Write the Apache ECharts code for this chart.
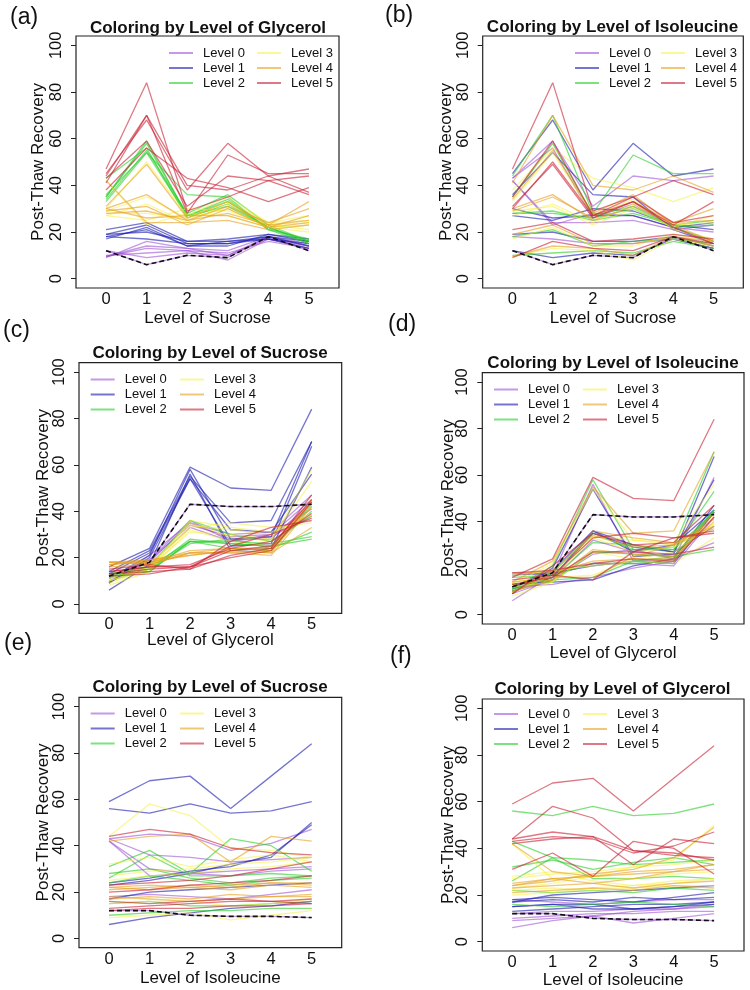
<!DOCTYPE html>
<html>
<head>
<meta charset="utf-8">
<script src="https://cdn.jsdelivr.net/npm/echarts@6/dist/echarts.min.js"></script>
<style>
html,body{margin:0;padding:0;background:#fff;}
#chart{width:750px;height:990px;}
</style>
</head>
<body>
<div id="chart"></div>
<script>
// factor levels (x-axis categories) and y tick labels
const levels = [0, 1, 2, 3, 4, 5];
const yTicks = [0, 20, 40, 60, 80, 100];
const legendNames = ['Level 0', 'Level 1', 'Level 2', 'Level 3', 'Level 4', 'Level 5'];

// Post-thaw recovery: for each sucrose level, rows = glycerol level 0..5, columns = isoleucine level 0..5
const sucrose0 = [
  [12, 12, 10, 9.5, 9.5, 9],
  [18, 19, 18, 17, 19, 21],
  [43, 36, 35, 33, 34, 35],
  [42, 27, 28, 27, 29, 30],
  [42, 30, 28, 29, 30, 31],
  [43, 45, 44, 38, 41, 47]
];
const sucrose1 = [
  [6, 9, 11, 13, 14, 16],
  [17, 20, 21, 22, 23, 24],
  [56, 54, 58, 54, 55, 59],
  [23, 25, 28, 32, 35, 50],
  [24, 26, 29, 31, 36, 49],
  [59, 68, 70, 56, 70, 84]
];
const sucrose2 = [
  [10, 11, 12, 12, 13, 13],
  [15, 16, 14, 14, 15, 16],
  [26, 36, 27, 27, 28, 27],
  [28, 30, 26, 24, 26, 27],
  [24, 27, 25, 23, 25, 26],
  [31, 38, 28, 43, 40, 29]
];
const sucrose3 = [
  [9, 10, 11, 8, 10, 12],
  [15, 16, 16, 14, 15, 17],
  [32, 35, 31, 34, 36, 33],
  [27, 29, 30, 32, 33, 35],
  [25, 27, 28, 30, 31, 33],
  [44, 58, 53, 39, 38, 35]
];
const sucrose4 = [
  [18, 17, 16, 17, 18, 18],
  [17, 18, 17, 19, 18, 19],
  [22, 21, 22, 21, 23, 22],
  [22, 23, 22, 23, 24, 24],
  [21, 22, 23, 22, 24, 23],
  [42, 44, 45, 33, 44, 42]
];
const sucrose5 = [
  [12, 13, 13, 14, 14, 15],
  [13, 14, 15, 16, 16, 17],
  [16, 15, 16, 17, 16, 15],
  [20, 21, 23, 24, 25, 27],
  [23, 24, 25, 27, 30, 33],
  [44, 47, 45, 39, 37, 36]
];
const cube = [sucrose0, sucrose1, sucrose2, sucrose3, sucrose4, sucrose5];

const FONT = '"Liberation Sans", Arial, sans-serif';
const palette = [
  'rgba(150,70,210,0.55)',
  'rgba(25,25,175,0.6)',
  'rgba(40,205,40,0.6)',
  'rgba(245,240,50,0.5)',
  'rgba(230,160,30,0.6)',
  'rgba(200,30,50,0.6)'
];

const factorName = { s: 'Sucrose', g: 'Glycerol', i: 'Isoleucine' };
const panels = [
  { tag: '(a)', x: 's', c: 'g', o: 'i', grid: { left: 76, top: 36, width: 263, height: 252 }, title: [208, 28], tagPos: [10, 5], legend: [169, 257, 45.5], xGap: 21.5, yGap: 29 },
  { tag: '(b)', x: 's', c: 'i', o: 'g', grid: { left: 482.7, top: 36, width: 260.6, height: 252 }, title: [612.5, 27], tagPos: [385, 3], legend: [575, 661, 45.5], xGap: 21.5, yGap: 27.5 },
  { tag: '(c)', x: 'g', c: 's', o: 'i', grid: { left: 79, top: 362.7, width: 262.7, height: 250.6 }, title: [210, 353], tagPos: [3, 318], legend: [90.7, 180, 372], xGap: 19, yGap: 27 },
  { tag: '(d)', x: 'g', c: 'i', o: 's', grid: { left: 482.3, top: 372.7, width: 261.7, height: 251.3 }, title: [613, 363.3], tagPos: [388, 312], legend: [494, 583, 382], xGap: 20.5, yGap: 25.5 },
  { tag: '(e)', x: 'i', c: 's', o: 'g', grid: { left: 79, top: 697.3, width: 262.7, height: 250.4 }, title: [210, 687.7], tagPos: [4, 631], legend: [90.7, 180, 706], xGap: 22, yGap: 27 },
  { tag: '(f)', x: 'i', c: 'g', o: 's', grid: { left: 482.3, top: 699, width: 261.7, height: 252 }, title: [612.5, 689.3], tagPos: [390, 644], legend: [494, 583, 706.5], xGap: 20.5, yGap: 25 }
];

function value(idx) { return cube[idx.s][idx.g][idx.i]; }

const grids = [], xAxes = [], yAxes = [], series = [], titles = [], legends = [];
panels.forEach((p, k) => {
  grids.push(Object.assign({ show: true, borderColor: '#222', borderWidth: 1.2, backgroundColor: 'transparent', containLabel: false }, p.grid));
  xAxes.push({
    type: 'value', gridIndex: k, min: -0.74, max: 5.74,
    axisLine: { show: false, onZero: false }, axisTick: { show: false }, splitLine: { show: false },
    axisLabel: { customValues: levels, fontSize: 16.5, margin: 3, color: '#111', fontFamily: FONT },
    name: 'Level of ' + factorName[p.x], nameLocation: 'middle', nameGap: p.xGap, nameMoveOverlap: false,
    nameTextStyle: { fontSize: 17, color: '#111', fontFamily: FONT }
  });
  yAxes.push({
    type: 'value', gridIndex: k, min: -4, max: 104,
    axisLine: { show: false, onZero: false }, splitLine: { show: false },
    axisTick: { show: true, customValues: yTicks, length: 5, lineStyle: { color: '#222', width: 1 } },
    axisLabel: { customValues: yTicks, rotate: 90, fontSize: 16.5, margin: 11, color: '#111', fontFamily: FONT },
    name: 'Post-Thaw Recovery', nameLocation: 'middle', nameGap: p.yGap, nameMoveOverlap: false,
    nameTextStyle: { fontSize: 17, color: '#111', fontFamily: FONT }
  });
  titles.push({
    text: 'Coloring by Level of ' + factorName[p.c], left: p.title[0], top: p.title[1] - 10, textAlign: 'center', padding: 0,
    textStyle: { fontSize: 17, fontWeight: 'bold', color: '#111', fontFamily: FONT, lineHeight: 20 }
  });
  titles.push({
    text: p.tag, left: p.tagPos[0], top: p.tagPos[1], padding: 0,
    textStyle: { fontSize: 23, fontWeight: 'normal', color: '#111', fontFamily: FONT, lineHeight: 26 }
  });
  [[0, 1, 2], [3, 4, 5]].forEach((cols, ci) => {
    legends.push({
      data: cols.map(c => legendNames[c]), orient: 'vertical',
      left: p.legend[ci], top: p.legend[2], padding: 0, itemGap: 0,
      icon: 'rect', itemWidth: 24, itemHeight: 2, selectedMode: false,
      textStyle: { fontSize: 13, color: '#111', fontFamily: FONT, lineHeight: 15, padding: [0, 0, 0, 5] }
    });
  });
  levels.forEach(c => {
    levels.forEach(o => {
      const data = levels.map(x => {
        const idx = {}; idx[p.x] = x; idx[p.c] = c; idx[p.o] = o;
        return [x, value(idx)];
      });
      series.push({
        type: 'line', name: legendNames[c], xAxisIndex: k, yAxisIndex: k, data: data,
        symbol: 'none', showSymbol: false, silent: true, animation: false,
        lineStyle: { color: palette[c], width: 1.3 }, itemStyle: { color: palette[c] },
        emphasis: { disabled: true }, z: 2
      });
    });
  });
  // dashed reference line: the other two factors at level 0
  const dash = levels.map(x => {
    const idx = {}; idx[p.x] = x; idx[p.c] = 0; idx[p.o] = 0;
    return [x, value(idx)];
  });
  series.push({
    type: 'line', name: 'baseline', xAxisIndex: k, yAxisIndex: k, data: dash,
    symbol: 'none', showSymbol: false, silent: true, animation: false,
    lineStyle: { color: '#111', width: 1.6, type: [5, 3] }, itemStyle: { color: '#111' },
    emphasis: { disabled: true }, z: 5
  });
});

const chart = echarts.init(document.getElementById('chart'), null, { renderer: 'canvas' });
chart.setOption({
  backgroundColor: '#fff',
  animation: false,
  textStyle: { fontFamily: FONT },
  title: titles,
  legend: legends,
  grid: grids,
  xAxis: xAxes,
  yAxis: yAxes,
  series: series
});
</script>
</body>
</html>
